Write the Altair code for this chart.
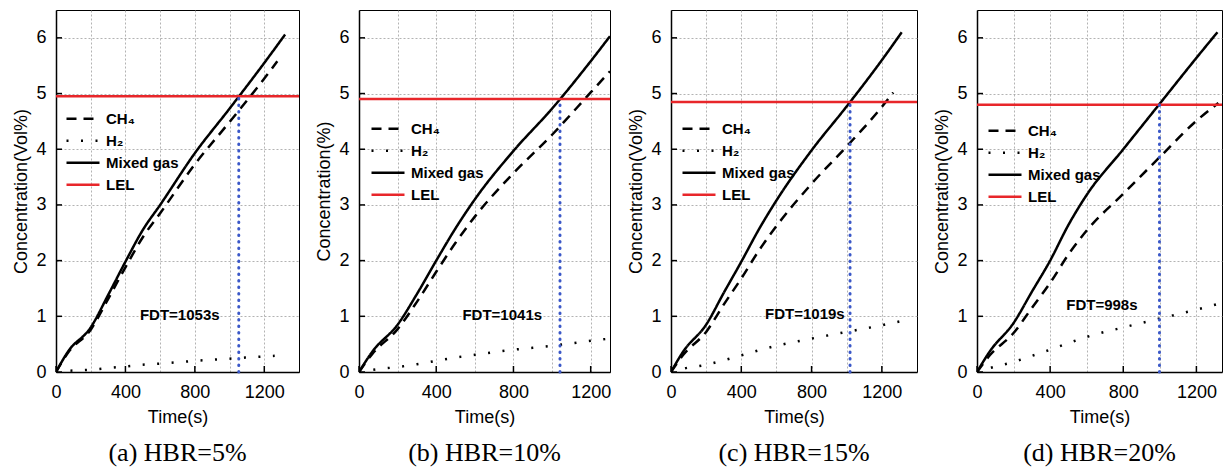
import altair as alt
import pandas as pd

# ---------------- data ----------------
series_names = ["CH₄", "H₂", "Mixed gas", "LEL"]
captions = ["(a) HBR=5%", "(b) HBR=10%", "(c) HBR=15%", "(d) HBR=20%"]
y_titles = ["Concentration(Vol%)", "Concentration(%)", "Concentration(Vol%)", "Concentration(Vol%)"]
x_max = [1400, 1300, 1400, 1340]
lel_values = [4.95, 4.90, 4.85, 4.80]
fdt_values = [1053, 1041, 1019, 998]
fdt_labels = ["FDT=1053s", "FDT=1041s", "FDT=1019s", "FDT=998s"]
fdt_label_t = [713, 742, 762, 683]
fdt_label_c = [1.03, 1.03, 1.04, 1.20]

x_tick_values = [0, 400, 800, 1200]
y_tick_values = [0, 1, 2, 3, 4, 5, 6]
x_grid_values = [0, 200, 400, 600, 800, 1000, 1200]
y_grid_values = [0, 0.5, 1, 1.5, 2, 2.5, 3, 3.5, 4, 4.5, 5, 5.5, 6]

# panel (a) HBR=5%
mix_t_a = [0, 70, 200, 300, 400, 500, 600, 800, 1000, 1200, 1320]
mix_c_a = [0, 0.37, 0.80, 1.38, 1.98, 2.55, 3.00, 3.93, 4.73, 5.55, 6.06]
ch4_t_a = [0, 70, 200, 300, 400, 500, 600, 800, 1000, 1200, 1275]
ch4_c_a = [0, 0.35, 0.76, 1.31, 1.88, 2.42, 2.85, 3.73, 4.49, 5.27, 5.58]
h2_t_a = [0, 70, 200, 300, 400, 500, 600, 800, 1000, 1200, 1260]
h2_c_a = [0, 0.02, 0.04, 0.07, 0.10, 0.13, 0.15, 0.20, 0.24, 0.28, 0.29]

# panel (b) HBR=10%
mix_t_b = [0, 70, 200, 300, 400, 500, 600, 800, 1000, 1200, 1300]
mix_c_b = [0, 0.37, 0.85, 1.40, 2.00, 2.58, 3.10, 3.97, 4.73, 5.58, 6.03]
ch4_t_b = [0, 70, 200, 300, 400, 500, 600, 800, 1000, 1200, 1300]
ch4_c_b = [0, 0.33, 0.77, 1.26, 1.80, 2.32, 2.79, 3.57, 4.26, 5.02, 5.40]
h2_t_b = [0, 70, 200, 300, 400, 500, 600, 800, 1000, 1200, 1300]
h2_c_b = [0, 0.04, 0.09, 0.14, 0.20, 0.26, 0.31, 0.40, 0.47, 0.56, 0.60]

# panel (c) HBR=15%
mix_t_c = [0, 70, 200, 300, 400, 500, 600, 800, 1000, 1200, 1313]
mix_c_c = [0, 0.37, 0.85, 1.42, 1.98, 2.56, 3.08, 3.98, 4.77, 5.60, 6.10]
ch4_t_c = [0, 70, 200, 300, 400, 500, 600, 800, 1000, 1200, 1265]
ch4_c_c = [0, 0.31, 0.72, 1.21, 1.68, 2.18, 2.62, 3.38, 4.05, 4.76, 5.02]
h2_t_c = [0, 70, 200, 300, 400, 500, 600, 800, 1000, 1200, 1305]
h2_c_c = [0, 0.06, 0.13, 0.21, 0.30, 0.39, 0.47, 0.60, 0.72, 0.84, 0.91]

# panel (d) HBR=20%
mix_t_d = [0, 70, 200, 300, 400, 500, 600, 800, 1000, 1200, 1315]
mix_c_d = [0, 0.37, 0.88, 1.44, 2.00, 2.64, 3.18, 4.00, 4.82, 5.64, 6.10]
ch4_t_d = [0, 70, 200, 300, 400, 500, 600, 800, 1000, 1200, 1320]
ch4_c_d = [0, 0.30, 0.70, 1.15, 1.60, 2.11, 2.54, 3.20, 3.86, 4.51, 4.83]
h2_t_d = [0, 70, 200, 300, 400, 500, 600, 800, 1000, 1200, 1315]
h2_c_d = [0, 0.07, 0.18, 0.29, 0.40, 0.52, 0.63, 0.80, 0.96, 1.12, 1.22]

panel_series = [
    (mix_t_a, mix_c_a, ch4_t_a, ch4_c_a, h2_t_a, h2_c_a),
    (mix_t_b, mix_c_b, ch4_t_b, ch4_c_b, h2_t_b, h2_c_b),
    (mix_t_c, mix_c_c, ch4_t_c, ch4_c_c, h2_t_c, h2_c_c),
    (mix_t_d, mix_c_d, ch4_t_d, ch4_c_d, h2_t_d, h2_c_d),
]

# ---------------- layout / style ----------------
panel_widths = [243, 251, 246, 245]
panel_height = 362
legend_x = [9, 11, 10, 10]
legend_y = [98, 108, 108, 110]
FONT = "Liberation Sans"
SERIF = "Liberation Serif"


def panel(i):
    mt, mc, ct, cc, ht, hc = panel_series[i]
    rows = []
    for t, c in zip(ct, cc):
        rows.append({"t": t, "c": c, "series": series_names[0]})
    for t, c in zip(ht, hc):
        rows.append({"t": t, "c": c, "series": series_names[1]})
    for t, c in zip(mt, mc):
        rows.append({"t": t, "c": c, "series": series_names[2]})
    for t in [0, x_max[i]]:
        rows.append({"t": t, "c": lel_values[i], "series": series_names[3]})
    df = pd.DataFrame(rows)

    xs = alt.Scale(domain=[0, x_max[i]], nice=False, zero=False)
    ys = alt.Scale(domain=[0, 6.5], nice=False, zero=False)

    x_axis = alt.Axis(values=[v for v in x_grid_values if v <= x_max[i]],
                      labelExpr="datum.value % 400 == 0 ? datum.label : ''",
                      title="Time(s)", grid=True, gridColor="#a0a0a0", gridDash=[2, 2],
                      gridWidth=0.8, ticks=False,
                      labelFont=FONT, labelFontSize=18, labelColor="black", labelFlush=False,
                      labelPadding=11, titleFont=FONT, titleFontSize=18, titleFontWeight="normal",
                      titleColor="black", titlePadding=7, domainColor="black", domainWidth=1.5,
                      format="d")
    y_axis = alt.Axis(values=y_grid_values,
                      labelExpr="datum.value % 1 == 0 ? datum.label : ''",
                      title=y_titles[i], grid=True, gridColor="#a0a0a0", gridDash=[2, 2],
                      gridWidth=0.8, ticks=False,
                      labelFont=FONT, labelFontSize=18, labelColor="black", labelFlush=False,
                      labelPadding=10, titleFont=FONT, titleFontSize=18, titleFontWeight="normal",
                      titleColor="black", titlePadding=5, domainColor="black", domainWidth=1.5,
                      format="d")

    leg = alt.Legend(orient="none", legendX=legend_x[i], legendY=legend_y[i], title=None,
                     symbolType="stroke", symbolSize=1089, symbolStrokeWidth=2.5,
                     labelFont=FONT, labelFontSize=15, labelFontWeight="bold", labelColor="black",
                     clipHeight=21.5, labelOffset=5, padding=0, rowPadding=0)

    X = lambda f: alt.X(f, scale=xs, axis=x_axis)
    Y = lambda f: alt.Y(f, scale=ys, axis=y_axis)

    lines = alt.Chart(df).mark_line(strokeWidth=2.5, clip=True, interpolate="monotone").encode(
        x=X("t:Q"),
        y=Y("c:Q"),
        color=alt.Color("series:N", scale=alt.Scale(domain=series_names,
                        range=["black", "black", "black", "#e8262a"]), legend=leg, sort=series_names),
        strokeDash=alt.StrokeDash("series:N", scale=alt.Scale(domain=series_names,
                                  range=[[10, 7], [2, 12.5], [1, 0], [1, 0]]), legend=leg, sort=series_names),
    )

    fdt_df = pd.DataFrame({"t": [fdt_values[i]], "c0": [0.0], "c1": [lel_values[i]]})
    fdt_rule = alt.Chart(fdt_df).mark_rule(
        color="#3b58c8", strokeWidth=3, strokeDash=[0.5, 6], strokeCap="round"
    ).encode(x=X("t:Q"), y=Y("c0:Q"), y2="c1:Q")

    txt_df = pd.DataFrame({"t": [fdt_label_t[i]], "c": [fdt_label_c[i]], "label": [fdt_labels[i]]})
    fdt_text = alt.Chart(txt_df).mark_text(
        font=FONT, fontSize=15, fontWeight="bold", color="black"
    ).encode(x=X("t:Q"), y=Y("c:Q"), text="label:N")

    xticks = alt.Chart(pd.DataFrame({"g": x_tick_values})).mark_rule(
        color="black", strokeWidth=1.5
    ).encode(x=X("g:Q"), y=alt.value(panel_height), y2=alt.value(panel_height - 6))
    yticks = alt.Chart(pd.DataFrame({"g": y_tick_values})).mark_rule(
        color="black", strokeWidth=1.5
    ).encode(y=Y("g:Q"), x=alt.value(0), x2=alt.value(6))

    return alt.layer(lines, fdt_rule, fdt_text, xticks, yticks).properties(
        width=panel_widths[i], height=panel_height,
        title=alt.TitleParams(captions[i], orient="bottom", font=SERIF, fontSize=26,
                              fontWeight="normal", color="black", frame="group",
                              anchor="middle", offset=14),
    )


chart = alt.hconcat(*[panel(i) for i in range(4)], spacing=15).resolve_scale(
    x="independent", y="independent", color="independent", strokeDash="independent"
).properties(
    padding={"left": 12, "top": 9, "right": 0, "bottom": 0}
).configure_view(stroke="black", strokeWidth=1)

chart.save("out.html", embed_options={"renderer": "svg", "actions": False})
